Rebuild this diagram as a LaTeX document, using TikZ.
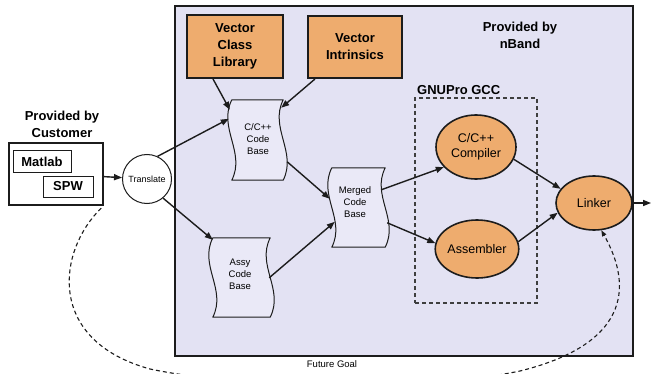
\documentclass[tikz,border=0pt]{standalone}
\usepackage{fontspec}
\setmainfont{Liberation Sans}
\usetikzlibrary{arrows.meta,calc,shapes.geometric}

\definecolor{panelfill}{RGB}{227,226,243}
\definecolor{docfill}{RGB}{234,233,247}
\definecolor{boxorange}{RGB}{238,172,110}
\definecolor{ink}{RGB}{28,28,28}

\pgfdeclarelayer{backdrop}
\pgfdeclarelayer{docs}
\pgfsetlayers{backdrop,docs,main}

\tikzset{
  panelbox/.style={rectangle, draw=ink, line width=1.3pt, fill=panelfill, inner sep=0pt},
  labelbold/.style={font=\fontsize{13}{17}\selectfont\bfseries, align=center, inner sep=0pt},
  vecbox/.style={rectangle, draw=ink, line width=2pt, fill=boxorange, inner sep=0pt,
    align=center, font=\fontsize{13}{17}\selectfont\bfseries},
  custbox/.style={rectangle, draw=ink, line width=2.4pt, fill=white, inner sep=0pt},
  toolname/.style={rectangle, draw=ink, line width=1pt, fill=white, inner sep=0pt,
    font=\fontsize{13}{15}\selectfont\bfseries},
  transnode/.style={circle, draw=ink, line width=1pt, fill=white, inner sep=0pt,
    minimum size=49pt, font=\fontsize{9}{11}\selectfont},
  toolnode/.style={ellipse, draw=ink, line width=1.6pt, fill=boxorange, inner sep=0pt,
    font=\fontsize{12.5}{15}\selectfont, align=center},
  codedoc/.style={rectangle, inner sep=0pt},
  doctext/.style={align=center, inner sep=0pt, font=\fontsize{9.5}{12}\selectfont},
  docline/.style={draw=ink, line width=1pt, fill=docfill, line join=round, line cap=round},
  gccbox/.style={rectangle, draw=ink!85, line width=1.2pt, dash pattern=on 4pt off 3pt, inner sep=0pt},
  flow/.style={draw=ink, line width=1.4pt, -{Triangle[length=8pt,width=6pt]}},
  goal/.style={draw=ink, line width=1.1pt, dash pattern=on 4pt off 3pt,
    -{Triangle[length=6pt,width=4.5pt]}},
  note/.style={inner sep=0pt, font=\fontsize{9.5}{11}\selectfont}
}

% sheet of code with wavy left and right edges, drawn behind the node's text
\newcommand\wavydoc[1]{%
  \begin{pgfonlayer}{docs}
  \path[docline] (#1.north west) -- (#1.north east)
    .. controls ($(#1.north east)!0.35!(#1.south east)+(-14,0)$)
             and ($(#1.north east)!0.65!(#1.south east)+(14,0)$) .. (#1.south east)
    -- (#1.south west)
    .. controls ($(#1.north west)!0.65!(#1.south west)+(14,0)$)
             and ($(#1.north west)!0.35!(#1.south west)+(-14,0)$) .. (#1.north west);
  \end{pgfonlayer}}

\begin{document}
\begin{tikzpicture}[x=1pt,y=-1pt]
\useasboundingbox (0,0) rectangle (652,374);
\clip (0,0) rectangle (652,374);

% nBand area
\begin{pgfonlayer}{backdrop}
  \fill[white] (0,0) rectangle (652,374);
  \node[panelbox, minimum width=458pt, minimum height=350pt] (panel) at (404,181) {};
\end{pgfonlayer}
\node[labelbold] (nband) at (520,35) {Provided by\\nBand};

% vector libraries
\node[vecbox, minimum width=96pt, minimum height=63pt] (vcl) at (235,46.5) {Vector\\Class\\Library};
\node[vecbox, minimum width=94pt, minimum height=62pt] (vi) at (355,47) {Vector\\Intrinsics};

% customer side
\node[labelbold] (custlabel) at (62,124) {Provided by\\Customer};
\node[custbox, minimum width=94pt, minimum height=62pt] (cust) at (56,174) {};
\node[toolname, minimum width=58pt, minimum height=21pt] (matlab) at (42,161.5) {Matlab};
\node[toolname, minimum width=50pt, minimum height=21pt] (spw) at (68,186.5) {SPW};
\node[transnode] (trans) at (147,179) {Translate};

% code bases
\node[codedoc, minimum width=51pt, minimum height=80pt] (cbase) at (257.5,140) {};
\wavydoc{cbase}
\node[doctext] (cbase-t) at (258,139) {C/C++\\Code\\Base};

\node[codedoc, minimum width=53pt, minimum height=79pt] (merged) at (358.5,207.5) {};
\wavydoc{merged}
\node[doctext] (merged-t) at (355,202) {Merged\\Code\\Base};

\node[codedoc, minimum width=57pt, minimum height=79pt] (assy) at (241.5,277.5) {};
\wavydoc{assy}
\node[doctext] (assy-t) at (240,274) {Assy\\Code\\Base};

% GNUPro tool chain
\node[gccbox, minimum width=122pt, minimum height=205pt] (gcc) at (476,200.5) {};
\node[labelbold, anchor=west] (gcclabel) at (417,90) {GNUPro GCC};
\node[toolnode, minimum width=80pt, minimum height=64pt] (compiler) at (476,147) {C/C++\\Compiler};
\node[toolnode, minimum width=76pt, minimum height=58pt] (assembler) at (477,249) {Assembler};
\node[toolnode, minimum width=76pt, minimum height=54pt] (linker) at (594,203) {Linker};
\coordinate (out) at (651,203);

% flow of code
\draw[flow] (cust) -- (trans);
\draw[flow] (trans.65) -- ($(cbase.north west)+(-3,19)$);
\draw[flow] (trans.-50) -- ($(assy.north west)+(0,2)$);
\draw[flow] ($(vcl.south)+(-22,0)$) -- ($(cbase.north west)+(-2,10)$);
\draw[flow] ($(vi.south west)+(8,0)$) -- ($(cbase.north east)+(-2,8)$);
\draw[flow] ($(cbase.north east)+(4,62)$) -- ($(merged.north west)+(-2,31)$);
\draw[flow] ($(assy.north east)+(-1,40)$) -- ($(merged.north west)+(3,54)$);
\draw[flow] ($(merged.north east)+(-4,22)$) -- (compiler.212);
\draw[flow] ($(merged.north east)+(2,55)$) -- (assembler.172);
\draw[flow] (compiler.-18) -- (linker.157);
\draw[flow] (assembler.10) -- (linker.195);
\draw[flow] (linker.east) -- (out);

% planned direct path from customer tools to the linker
\draw[goal] ($(cust.south east)+(-3,2)$)
  .. controls (58,250) and (45,340) .. (150,369)
  .. controls (250,390) and (430,390) .. (520,371)
  .. controls (625,345) and (635,290) .. (linker.-75);
\node[note] (future) at (332,364) {Future Goal};
\end{tikzpicture}
\end{document}
